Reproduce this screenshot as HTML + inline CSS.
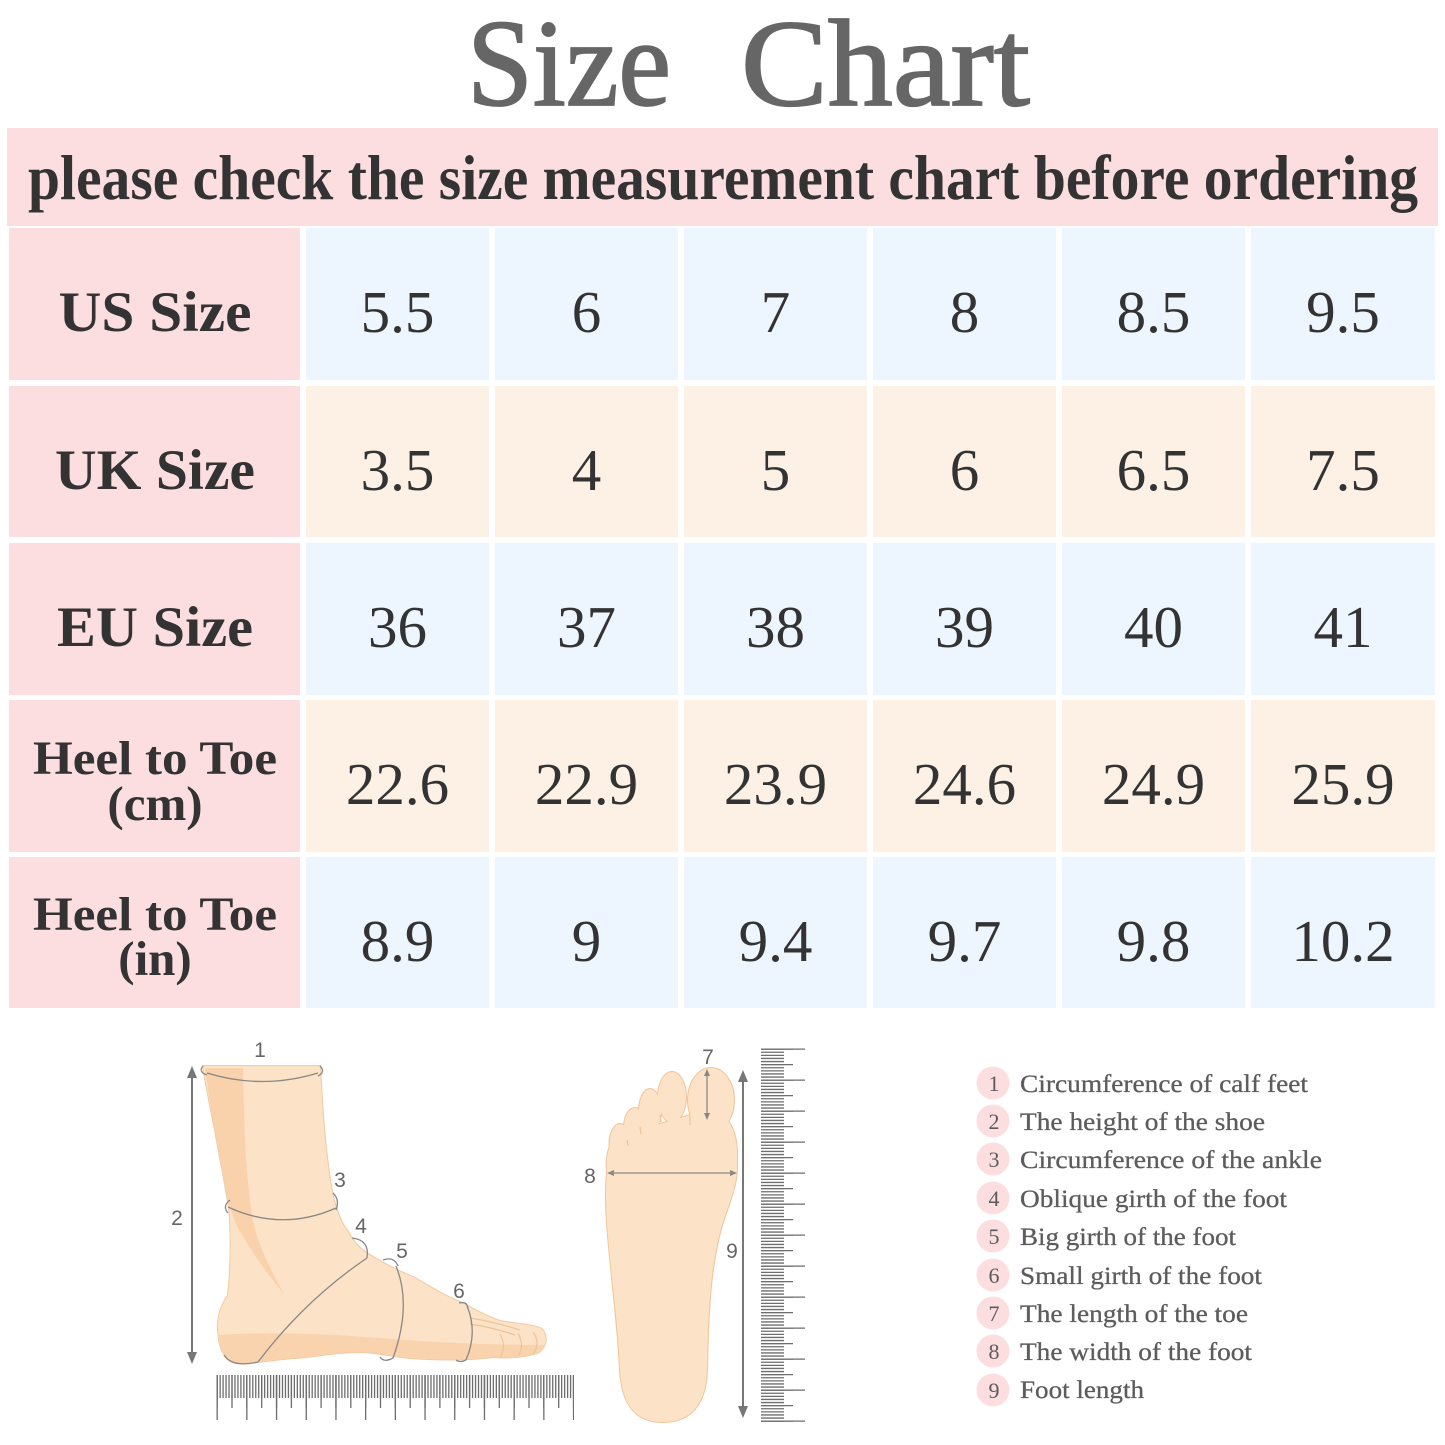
<!DOCTYPE html>
<html><head><meta charset="utf-8"><style>
html,body{margin:0;padding:0;background:#fff;}
svg{display:block;}
</style></head><body>
<svg width="1445" height="1445" viewBox="0 0 1445 1445" xmlns="http://www.w3.org/2000/svg">
<rect width="1445" height="1445" fill="#fff"/>
<!-- Title -->
<g font-family="'Liberation Serif', serif" fill="#666" stroke="#666" stroke-width="1.8">
<text x="467" y="105" font-size="124" textLength="204" lengthAdjust="spacingAndGlyphs">Size</text>
<text x="741" y="105" font-size="124" textLength="289" lengthAdjust="spacingAndGlyphs">Chart</text>
</g>
<!-- Banner -->
<rect x="7" y="128" width="1431" height="98" fill="#fddee0"/>
<text x="28" y="199" font-family="'Liberation Serif', serif" font-weight="bold" font-size="63" fill="#333" textLength="1390" lengthAdjust="spacingAndGlyphs">please check the size measurement chart before ordering</text>

<!-- Table cells -->
<g>
<rect x="9" y="228" width="291" height="152" fill="#fddee0"/>
<rect x="9" y="386" width="291" height="151" fill="#fddee0"/>
<rect x="9" y="543" width="291" height="152" fill="#fddee0"/>
<rect x="9" y="700" width="291" height="152" fill="#fddee0"/>
<rect x="9" y="857" width="291" height="151" fill="#fddee0"/>
</g>
<g fill="#edf5fe">
<rect x="306" y="228" width="183" height="152"/><rect x="495" y="228" width="183" height="152"/><rect x="684" y="228" width="183" height="152"/><rect x="873" y="228" width="183" height="152"/><rect x="1062" y="228" width="183" height="152"/><rect x="1251" y="228" width="184" height="152"/>
<rect x="306" y="543" width="183" height="152"/><rect x="495" y="543" width="183" height="152"/><rect x="684" y="543" width="183" height="152"/><rect x="873" y="543" width="183" height="152"/><rect x="1062" y="543" width="183" height="152"/><rect x="1251" y="543" width="184" height="152"/>
<rect x="306" y="857" width="183" height="151"/><rect x="495" y="857" width="183" height="151"/><rect x="684" y="857" width="183" height="151"/><rect x="873" y="857" width="183" height="151"/><rect x="1062" y="857" width="183" height="151"/><rect x="1251" y="857" width="184" height="151"/>
</g>
<g fill="#fdf1e6">
<rect x="306" y="386" width="183" height="151"/><rect x="495" y="386" width="183" height="151"/><rect x="684" y="386" width="183" height="151"/><rect x="873" y="386" width="183" height="151"/><rect x="1062" y="386" width="183" height="151"/><rect x="1251" y="386" width="184" height="151"/>
<rect x="306" y="700" width="183" height="152"/><rect x="495" y="700" width="183" height="152"/><rect x="684" y="700" width="183" height="152"/><rect x="873" y="700" width="183" height="152"/><rect x="1062" y="700" width="183" height="152"/><rect x="1251" y="700" width="184" height="152"/>
</g>

<!-- Row labels -->
<g font-family="'Liberation Serif', serif" font-weight="bold" fill="#333" text-anchor="middle">
<text x="155" y="331" font-size="57" textLength="193" lengthAdjust="spacingAndGlyphs">US Size</text>
<text x="155" y="489" font-size="57" textLength="200" lengthAdjust="spacingAndGlyphs">UK Size</text>
<text x="155" y="646" font-size="57" textLength="196" lengthAdjust="spacingAndGlyphs">EU Size</text>
<text x="155" y="774" font-size="48" textLength="244" lengthAdjust="spacingAndGlyphs">Heel to Toe</text>
<text x="155" y="820" font-size="49">(cm)</text>
<text x="155" y="930" font-size="48" textLength="244" lengthAdjust="spacingAndGlyphs">Heel to Toe</text>
<text x="155" y="975" font-size="49">(in)</text>
</g>

<!-- Values -->
<g font-family="'Liberation Serif', serif" font-size="59" fill="#333" text-anchor="middle">
<text x="397.5" y="332">5.5</text><text x="586.5" y="332">6</text><text x="775.5" y="332">7</text><text x="964.5" y="332">8</text><text x="1153.5" y="332">8.5</text><text x="1343" y="332">9.5</text>
<text x="397.5" y="490">3.5</text><text x="586.5" y="490">4</text><text x="775.5" y="490">5</text><text x="964.5" y="490">6</text><text x="1153.5" y="490">6.5</text><text x="1343" y="490">7.5</text>
<text x="397.5" y="647">36</text><text x="586.5" y="647">37</text><text x="775.5" y="647">38</text><text x="964.5" y="647">39</text><text x="1153.5" y="647">40</text><text x="1343" y="647">41</text>
<text x="397.5" y="804">22.6</text><text x="586.5" y="804">22.9</text><text x="775.5" y="804">23.9</text><text x="964.5" y="804">24.6</text><text x="1153.5" y="804">24.9</text><text x="1343" y="804">25.9</text>
<text x="397.5" y="961">8.9</text><text x="586.5" y="961">9</text><text x="775.5" y="961">9.4</text><text x="964.5" y="961">9.7</text><text x="1153.5" y="961">9.8</text><text x="1343" y="961">10.2</text>
</g>

<!-- Side foot illustration -->
<defs>
<path id="sidefoot" d="M203,1066 L320,1066 C322,1100 324,1150 333,1197 C338,1215 342,1225 347,1230 C352,1240 358,1247 365,1252 C380,1262 400,1272 413,1277 C430,1287 445,1296 460,1302 C475,1310 490,1318 500,1321 C515,1324 530,1324 540,1328 C548,1332 548,1348 537,1353 C520,1358 505,1358 493,1357 C470,1360 440,1360 410,1358 C390,1356 375,1352 360,1352 C330,1352 310,1358 293,1358 C270,1360 250,1364 237,1362 C225,1360 219,1350 218,1330 C217,1315 222,1305 228,1295 C231,1270 231,1240 230,1217 C228,1195 222,1170 215,1130 C210,1105 206,1085 203,1066 Z"/>
</defs>
<use href="#sidefoot" fill="none" stroke="#f2c9a0" stroke-width="2"/>
<use href="#sidefoot" fill="#fce2c6"/>
<path d="M205,1068 L243,1068 C244,1120 245,1170 252,1215 C256,1240 268,1265 284,1294 C268,1275 250,1250 238,1228 C232,1215 229,1205 226,1190 C220,1160 212,1120 205,1068 Z" fill="#f9d2ab"/>
<path d="M219,1335 C260,1332 320,1333 380,1338 C440,1343 500,1345 545,1345 C545,1350 540,1353 537,1353 C520,1358 505,1358 493,1357 C470,1360 440,1360 410,1358 C390,1356 375,1352 360,1352 C330,1352 310,1358 293,1358 C270,1360 250,1364 237,1362 C225,1360 220,1350 219,1335 Z" fill="#f8d3ad"/>
<g fill="none" stroke="#eec39a" stroke-width="1.2">
<path d="M500,1334 Q507,1347 500,1357"/><path d="M518,1333 Q525,1346 518,1356"/><path d="M533,1332 Q541,1343 533,1354"/>
<path d="M470,1318 Q495,1322 520,1330"/><path d="M470,1324 Q495,1328 515,1335"/>
</g>
<!-- measurement lines -->
<g fill="none" stroke="#888" stroke-width="1.3">
<path d="M207,1073 Q262,1090 318,1073"/>
<path d="M203,1066 Q198,1072 207,1075"/><path d="M320,1066 Q326,1072 318,1076"/>
<path d="M228,1207 Q282,1232 336,1208"/>
<path d="M230,1200 Q222,1206 228,1213"/><path d="M333,1193 Q340,1200 336,1210"/>
<path d="M258,1362 Q305,1300 367,1258"/>
<path d="M352,1238 Q370,1240 367,1258"/><path d="M258,1362 Q232,1368 224,1355"/>
<path d="M396,1266 Q412,1305 393,1358"/>
<path d="M383,1260 Q394,1256 398,1266"/><path d="M393,1358 Q384,1363 380,1357"/>
<path d="M467,1306 Q478,1332 466,1360"/>
<path d="M459,1303 Q467,1301 468,1308"/><path d="M466,1360 Q460,1363 456,1360"/>
</g>
<!-- arrow 2 -->
<g fill="#777" stroke="#777">
<line x1="192" y1="1074" x2="192" y2="1356" stroke-width="2"/>
<path d="M192,1066 L187,1078 L197,1078 Z" stroke="none"/>
<path d="M192,1364 L187,1352 L197,1352 Z" stroke="none"/>
</g>
<!-- horizontal ruler -->
<g stroke="#6e6e6e">
<line x1="216.5" y1="1386.5" x2="574" y2="1386.5" stroke-width="23" stroke-dasharray="1.3 1.67"/>
<line x1="216.5" y1="1391.5" x2="574" y2="1391.5" stroke-width="33" stroke-dasharray="1.3 13.55"/>
<line x1="216.5" y1="1397.5" x2="574" y2="1397.5" stroke-width="45" stroke-dasharray="1.3 28.4"/>
</g>

<!-- Sole illustration -->
<defs>
<g id="sole">
<path d="M607,1173 C605,1150 612,1138 620,1136 L700,1112 C725,1108 738,1125 737,1160 C738,1185 730,1200 722,1225 C712,1260 708,1300 707,1370 C706,1405 690,1422 663,1422 C640,1422 622,1410 620,1370 C617,1300 602,1220 607,1173 Z"/>
<ellipse cx="711" cy="1100" rx="23" ry="32"/>
<ellipse cx="672" cy="1097" rx="14" ry="25"/>
<ellipse cx="650" cy="1111" rx="11" ry="22"/>
<ellipse cx="635" cy="1127" rx="11" ry="19"/>
<ellipse cx="620" cy="1144" rx="10.5" ry="20"/>
</g>
</defs>
<use href="#sole" fill="none" stroke="#f0c59c" stroke-width="2"/>
<use href="#sole" fill="#fce2c6"/>
<g fill="none" stroke="#eec39a" stroke-width="1.2">
<path d="M690,1116 L690,1125"/><path d="M660,1115 L661,1122"/><path d="M640,1127 L641,1134"/><path d="M627,1140 L628,1146"/>
</g>
<g stroke="#888" stroke-width="1.3" fill="#888">
<line x1="610" y1="1173" x2="734" y2="1173"/>
<path d="M607,1173 L614,1170 L614,1176 Z" stroke="none"/><path d="M737,1173 L730,1170 L730,1176 Z" stroke="none"/>
<line x1="707" y1="1072" x2="707" y2="1117"/>
<path d="M707,1069 L704,1076 L710,1076 Z" stroke="none"/><path d="M707,1120 L704,1113 L710,1113 Z" stroke="none"/>
</g>
<!-- arrow 9 -->
<g fill="#777" stroke="#777">
<line x1="743" y1="1078" x2="743" y2="1410" stroke-width="2"/>
<path d="M743,1070 L738,1082 L748,1082 Z" stroke="none"/>
<path d="M743,1418 L738,1406 L748,1406 Z" stroke="none"/>
</g>
<!-- vertical ruler -->
<g stroke="#6e6e6e">
<line x1="772.5" y1="1048.5" x2="772.5" y2="1423" stroke-width="23" stroke-dasharray="1.3 1.8"/>
<line x1="777" y1="1048.5" x2="777" y2="1423" stroke-width="32" stroke-dasharray="1.3 14.2"/>
<line x1="783" y1="1048.5" x2="783" y2="1423" stroke-width="44" stroke-dasharray="1.3 29.7"/>
</g>

<!-- illustration numbers -->
<g font-family="'Liberation Sans', sans-serif" font-size="21" fill="#666" text-anchor="middle">
<text x="260" y="1057">1</text>
<text x="177" y="1225">2</text>
<text x="340" y="1187">3</text>
<text x="361" y="1233">4</text>
<text x="402" y="1258">5</text>
<text x="459" y="1298">6</text>
<text x="708" y="1064">7</text>
<text x="590" y="1183">8</text>
<text x="732" y="1258">9</text>
</g>

<!-- Legend -->
<g fill="#fcdde0">
<circle cx="993" cy="1083" r="16.5"/><circle cx="993" cy="1121" r="16.5"/><circle cx="993" cy="1159" r="16.5"/>
<circle cx="993" cy="1198" r="16.5"/><circle cx="993" cy="1236" r="16.5"/><circle cx="993" cy="1275" r="16.5"/>
<circle cx="993" cy="1313" r="16.5"/><circle cx="993" cy="1351" r="16.5"/><circle cx="993" cy="1390" r="16.5"/>
</g>
<g font-family="'Liberation Serif', serif" font-size="22" fill="#5c5c5c" text-anchor="middle">
<text x="994" y="1091">1</text><text x="994" y="1129">2</text><text x="994" y="1167">3</text>
<text x="994" y="1206">4</text><text x="994" y="1244">5</text><text x="994" y="1283">6</text>
<text x="994" y="1321">7</text><text x="994" y="1359">8</text><text x="994" y="1398">9</text>
</g>
<g font-family="'Liberation Serif', serif" font-size="25" fill="#5c5c5c" stroke="#5c5c5c" stroke-width="0.3">
<text x="1020" y="1092" textLength="288" lengthAdjust="spacingAndGlyphs">Circumference of calf feet</text>
<text x="1020" y="1130" textLength="245" lengthAdjust="spacingAndGlyphs">The height of the shoe</text>
<text x="1020" y="1168" textLength="302" lengthAdjust="spacingAndGlyphs">Circumference of the ankle</text>
<text x="1020" y="1207" textLength="267" lengthAdjust="spacingAndGlyphs">Oblique girth of the foot</text>
<text x="1020" y="1245" textLength="216" lengthAdjust="spacingAndGlyphs">Big girth of the foot</text>
<text x="1020" y="1284" textLength="242" lengthAdjust="spacingAndGlyphs">Small girth of the foot</text>
<text x="1020" y="1322" textLength="228" lengthAdjust="spacingAndGlyphs">The length of the toe</text>
<text x="1020" y="1360" textLength="232" lengthAdjust="spacingAndGlyphs">The width of the foot</text>
<text x="1020" y="1398" textLength="124" lengthAdjust="spacingAndGlyphs">Foot length</text>
</g>
</svg>
</body></html>
